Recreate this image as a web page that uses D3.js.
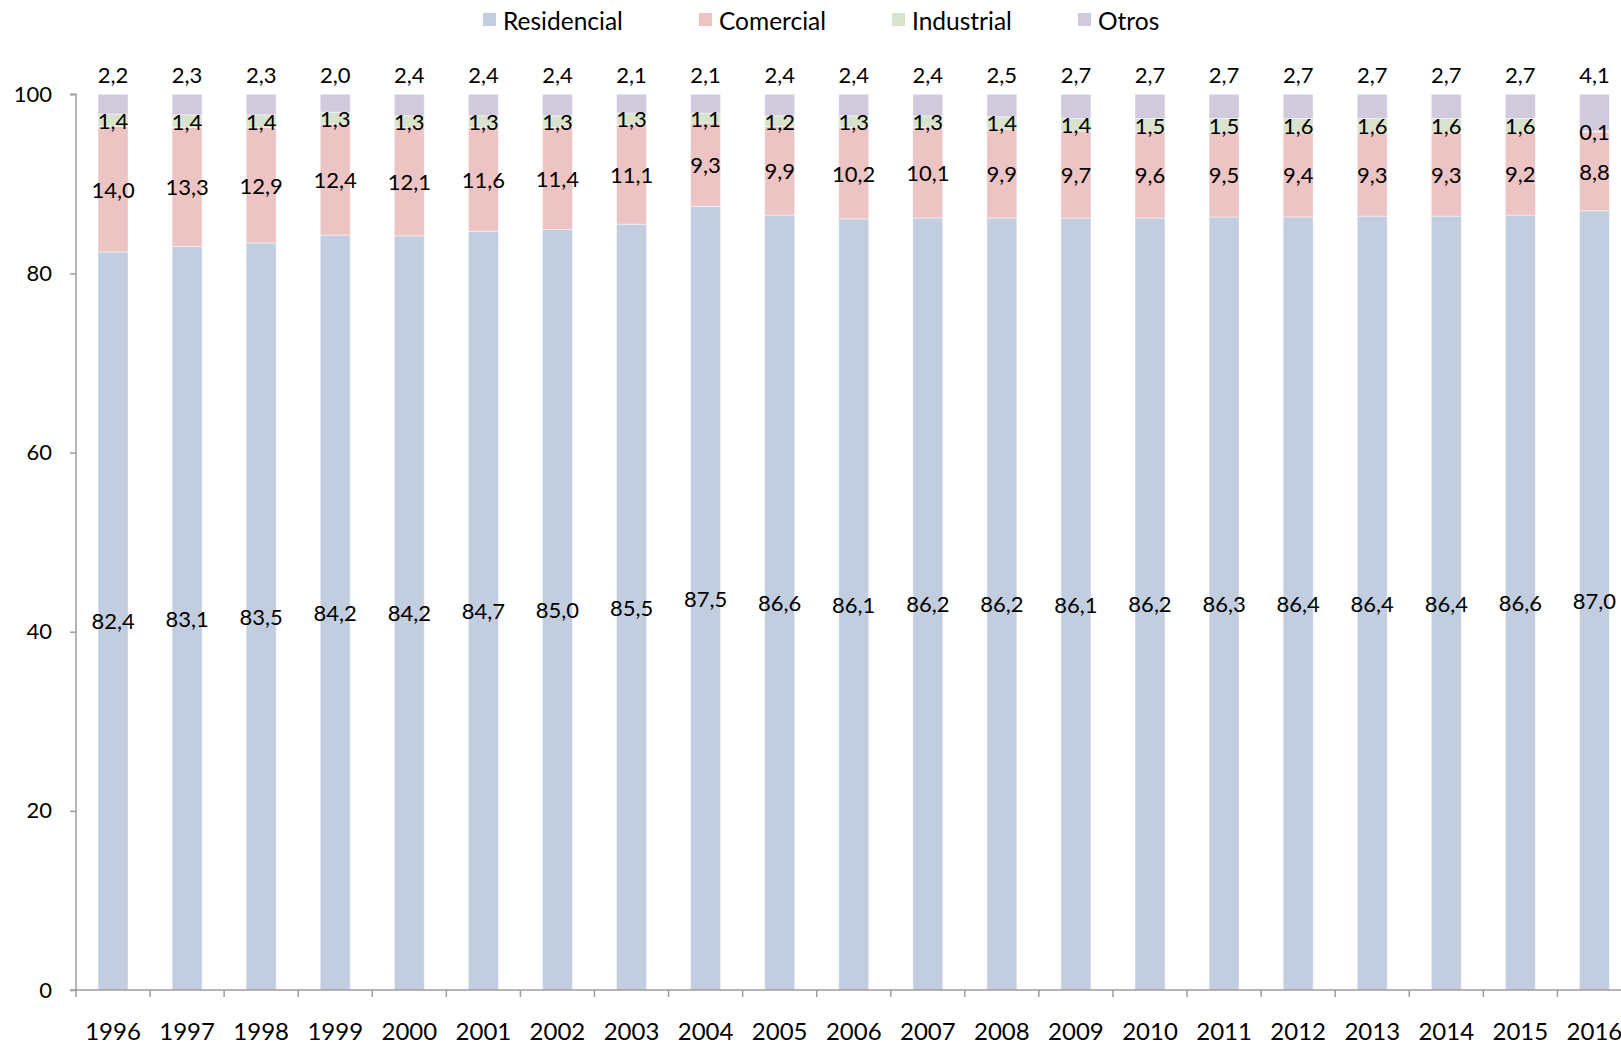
<!DOCTYPE html>
<html>
<head>
<meta charset="utf-8">
<script src="https://cdn.jsdelivr.net/npm/d3@7"></script>
<style>
  body { margin: 0; background: #fff; }
  svg { display: block; font-family: Lato, "Open Sans", sans-serif; }
  .axis path, .axis line { stroke: #9d9d9d; stroke-width: 1.5; }
  .axis text { fill: #000; font-size: 22px; font-family: Lato, "Open Sans", sans-serif; }
  .x.axis text { font-size: 24px; }
  .lbl { font-size: 22px; fill: #000; }
  .leg { font-size: 24.5px; fill: #000; }
</style>
</head>
<body>
<svg width="1621" height="1042"></svg>
<script>
var years = ["1996", "1997", "1998", "1999", "2000", "2001", "2002", "2003", "2004", "2005", "2006",
             "2007", "2008", "2009", "2010", "2011", "2012", "2013", "2014", "2015", "2016"];
var series = ["Residencial", "Comercial", "Industrial", "Otros"];
var colors = ["#c2cedf", "#ecc4c4", "#d8e2cc", "#d1cadd"];

var residencial = [82.4, 83.1, 83.5, 84.2, 84.2, 84.7, 85.0, 85.5, 87.5, 86.6, 86.1,
                   86.2, 86.2, 86.1, 86.2, 86.3, 86.4, 86.4, 86.4, 86.6, 87.0];
var comercial   = [14.0, 13.3, 12.9, 12.4, 12.1, 11.6, 11.4, 11.1, 9.3, 9.9, 10.2,
                   10.1, 9.9, 9.7, 9.6, 9.5, 9.4, 9.3, 9.3, 9.2, 8.8];
var industrial  = [1.4, 1.4, 1.4, 1.3, 1.3, 1.3, 1.3, 1.3, 1.1, 1.2, 1.3,
                   1.3, 1.4, 1.4, 1.5, 1.5, 1.6, 1.6, 1.6, 1.6, 0.1];
var otros       = [2.2, 2.3, 2.3, 2.0, 2.4, 2.4, 2.4, 2.1, 2.1, 2.4, 2.4,
                   2.4, 2.5, 2.7, 2.7, 2.7, 2.7, 2.7, 2.7, 2.7, 4.1];
var yTicks = [0, 20, 40, 60, 80, 100];

var values = [residencial, comercial, industrial, otros];

// rows for d3.stack
var rows = years.map(function (y, i) {
  let r = { year: y };
  series.forEach(function (s, k) { r[s] = values[k][i]; });
  return r;
});

var svg = d3.select("svg"),
    plotLeft = 76,
    step = 74.07,
    plotTop = 94.3,
    plotBottom = 990,
    barW = 30;

var x = d3.scaleBand()
  .domain(years)
  .range([plotLeft, plotLeft + step * years.length]);

var y = d3.scaleLinear()
  .domain([0, 100])
  .range([plotBottom, plotTop]);

var stacked = d3.stack()
  .keys(series)
  .offset(d3.stackOffsetExpand)(rows);

var fmt = function (v) { return d3.format(".1f")(v).replace(".", ","); };

// bars
var layer = svg.append("g")
  .selectAll("g")
  .data(stacked)
  .enter().append("g")
    .attr("fill", function (d, i) { return colors[i]; });

layer.selectAll("rect")
  .data(function (d) { return d; })
  .enter().append("rect")
    .attr("x", function (d) { return x(d.data.year) + x.bandwidth() / 2 - barW / 2; })
    .attr("width", barW)
    .attr("y", function (d) { return y(d[1] * 100); })
    .attr("height", function (d) { return y(d[0] * 100) - y(d[1] * 100); })
    .attr("stroke", "#fff")
    .attr("stroke-opacity", 0.45)
    .attr("stroke-width", 1);

// axes
var yAxis = svg.append("g")
  .attr("class", "y axis")
  .attr("transform", "translate(" + plotLeft + ",0)")
  .call(d3.axisLeft(y).tickValues(yTicks).tickSize(6).tickPadding(18).tickFormat(d3.format("d")));
yAxis.select(".domain").attr("d", "M0," + plotBottom + "V" + plotTop + "H-6");

var xAxis = svg.append("g")
  .attr("class", "x axis")
  .attr("transform", "translate(0," + plotBottom + ")")
  .call(d3.axisBottom(x).tickSize(0).tickPadding(30));
xAxis.select(".domain").attr("d", "M" + (plotLeft - 6) + ",0H" + (plotLeft + step * years.length));
xAxis.selectAll(".tick text").attr("dy", "0.36em").attr("y", 41);

// category boundary ticks
xAxis.append("g")
  .selectAll("line")
  .data(d3.range(years.length + 1))
  .enter().append("line")
    .attr("x1", function (i) { return plotLeft + i * step; })
    .attr("x2", function (i) { return plotLeft + i * step; })
    .attr("y1", 0)
    .attr("y2", 7);

// data labels
var labels = svg.append("g");
stacked.forEach(function (s, k) {
  labels.selectAll(null)
    .data(s)
    .enter().append("text")
      .attr("class", "lbl")
      .attr("text-anchor", "middle")
      .attr("dominant-baseline", "central")
      .attr("x", function (d) { return x(d.data.year) + x.bandwidth() / 2; })
      .attr("y", function (d) {
        if (k === 3) return y(100) - 20;
        return y((d[0] + d[1]) / 2 * 100);
      })
      .text(function (d, i) { return fmt(values[k][i]); });
});

// legend
var legX = [483, 699, 892, 1078];
var legend = svg.append("g")
  .selectAll("g")
  .data(series)
  .enter().append("g")
    .attr("transform", function (d, i) { return "translate(" + legX[i] + ",20)"; });

legend.append("rect")
  .attr("x", 0)
  .attr("y", -7)
  .attr("width", 13)
  .attr("height", 13)
  .attr("fill", function (d, i) { return colors[i]; });

legend.append("text")
  .attr("class", "leg")
  .attr("x", 20)
  .attr("dominant-baseline", "central")
  .text(function (d) { return d; });
</script>
</body>
</html>
